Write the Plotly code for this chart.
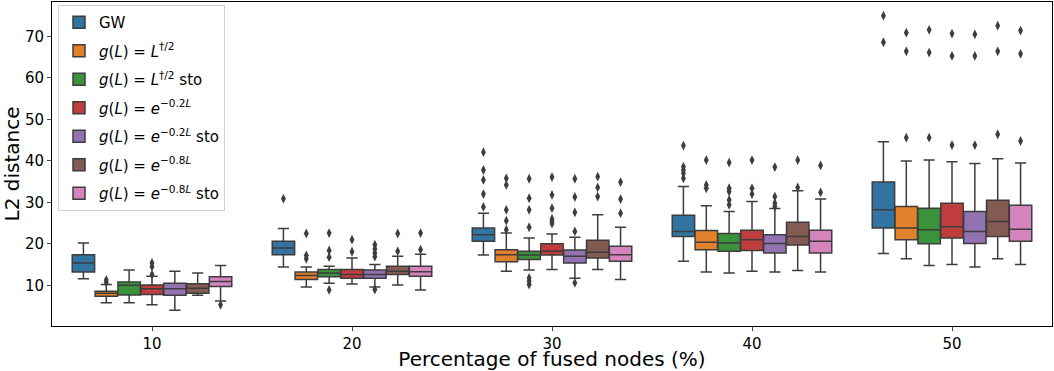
import plotly.graph_objects as go

groups = ["10", "20", "30", "40", "50"]
names = [
    "GW",
    "<i>g</i>(<i>L</i>) = <i>L</i><sup>†/2</sup>",
    "<i>g</i>(<i>L</i>) = <i>L</i><sup>†/2</sup> sto",
    "<i>g</i>(<i>L</i>) = <i>e</i><sup>−0.2<i>L</i></sup>",
    "<i>g</i>(<i>L</i>) = <i>e</i><sup>−0.2<i>L</i></sup> sto",
    "<i>g</i>(<i>L</i>) = <i>e</i><sup>−0.8<i>L</i></sup>",
    "<i>g</i>(<i>L</i>) = <i>e</i><sup>−0.8<i>L</i></sup> sto",
]
colors = ["#3274a1", "#e1812c", "#3a923a", "#c03d3e", "#9372b2", "#845b53", "#d684bd"]

# box stats per method, one value per group (10..50 %)
q1 = [
    [13.2, 17.4, 20.6, 21.8, 23.8],
    [7.4, 11.4, 15.7, 18.6, 21.0],
    [7.7, 12.1, 16.2, 18.2, 20.0],
    [7.8, 11.7, 17.3, 18.4, 21.4],
    [7.6, 11.7, 15.4, 17.8, 20.1],
    [8.1, 12.6, 16.6, 19.7, 21.8],
    [9.7, 12.2, 15.8, 17.8, 20.6],
]
med = [
    [15.4, 19.0, 22.2, 23.0, 28.2],
    [8.1, 12.4, 17.4, 20.4, 23.8],
    [10.0, 13.0, 17.3, 20.2, 23.4],
    [9.2, 12.6, 18.2, 21.0, 24.1],
    [9.2, 12.6, 17.0, 20.1, 23.0],
    [9.3, 13.4, 18.0, 21.8, 25.4],
    [10.9, 13.3, 17.4, 20.6, 23.5],
]
q3 = [
    [17.4, 20.6, 23.8, 26.9, 34.9],
    [8.6, 13.2, 18.6, 23.2, 29.0],
    [10.8, 13.8, 18.2, 22.5, 28.6],
    [10.1, 13.8, 20.0, 23.3, 29.8],
    [10.5, 13.7, 18.5, 22.2, 27.8],
    [10.4, 14.6, 20.9, 25.2, 30.5],
    [12.1, 14.6, 19.4, 23.3, 29.3],
]
lo = [
    [11.6, 14.4, 17.3, 15.8, 17.7],
    [5.8, 9.6, 13.4, 13.2, 16.4],
    [5.8, 10.5, 13.7, 13.0, 14.8],
    [5.3, 10.3, 13.8, 13.4, 15.0],
    [4.0, 9.6, 11.7, 13.2, 14.4],
    [7.6, 10.1, 13.8, 13.6, 16.4],
    [6.2, 8.9, 11.4, 13.2, 15.0],
]
hi = [
    [20.2, 23.7, 27.4, 33.8, 44.6],
    [10.2, 14.4, 22.6, 29.2, 40.0],
    [13.7, 14.6, 21.4, 27.8, 40.2],
    [12.2, 16.6, 22.4, 30.2, 39.8],
    [13.4, 15.0, 21.6, 28.5, 39.4],
    [12.95, 17.0, 27.0, 32.8, 40.5],
    [14.8, 17.5, 24.0, 30.8, 39.5],
]
outliers = [
    [[], [30.9], [42.1, 37.8, 35.4, 32.0, 28.9], [43.7, 38.6, 37.8, 37.0, 35.8], [75.0, 68.6]],
    [[11.3, 10.7], [22.5, 17.2, 16.4], [35.8, 34.2, 28.2, 25.6, 23.4], [40.2, 34.2, 33.4], [70.9, 66.4, 45.6]],
    [[], [22.6, 18.4, 16.8, 8.9], [35.7, 31.0, 28.2, 24.0, 11.8, 11.0, 10.2], [39.6, 33.4, 32.6, 30.6, 29.4], [71.6, 66.1, 45.6]],
    [[15.4, 14.5, 12.6], [21.0, 18.1], [36.1, 31.8, 28.6, 26.0, 25.4, 24.9], [40.2, 33.4, 32.0], [70.7, 65.3, 43.8]],
    [[], [19.8, 18.8, 17.8, 16.9, 9.0], [35.7, 31.3, 27.6, 23.0, 10.6], [38.5, 31.4, 29.8, 29.0], [70.5, 65.3, 43.8]],
    [[], [22.5, 18.2], [36.2, 33.6, 31.4], [40.2, 33.6], [72.6, 66.4, 46.4]],
    [[5.3], [22.6, 18.6], [34.9, 30.8, 27.4], [38.9, 32.4], [71.4, 65.8, 44.8]],
]

gray = "#3d3d3d"
n = len(names)
bw = 0.8 / n
fig = go.Figure()

for h in range(n):
    off = (h - (n - 1) / 2) * bw
    xs = [g + off for g in range(len(groups))]
    fig.add_trace(go.Box(
        x=xs, q1=q1[h], median=med[h], q3=q3[h],
        lowerfence=lo[h], upperfence=hi[h],
        name=names[h], fillcolor=colors[h],
        line=dict(color=gray, width=1.5),
        width=bw * 0.98, whiskerwidth=0.5,
        boxpoints=False, legendgroup=str(h),
    ))
    ox, oy = [], []
    for g in range(len(groups)):
        for v in outliers[h][g]:
            ox.append(g + off)
            oy.append(v)
    fig.add_trace(go.Scatter(
        x=ox, y=oy, mode="markers", showlegend=False, legendgroup=str(h),
        marker=dict(symbol="diamond-tall", size=7, color=gray),
    ))

fig.update_layout(
    width=1054, height=371,
    margin=dict(l=52, r=2, t=2, b=45),
    plot_bgcolor="white", paper_bgcolor="white",
    font=dict(family="DejaVu Sans", size=15, color="black"),
    boxmode="overlay",
    legend=dict(
        x=0.006, y=0.991, xanchor="left", yanchor="top",
        bgcolor="white", bordercolor="#d0d0d0", borderwidth=1,
        font=dict(size=15), tracegroupgap=6,
    ),
    xaxis=dict(
        range=[-0.5, 4.5], tickvals=list(range(len(groups))), ticktext=groups,
        showgrid=False, zeroline=False, showline=True, mirror=True,
        linecolor="black", linewidth=1, ticks="outside", ticklen=4,
        automargin=False,
        title=dict(text="Percentage of fused nodes (%)", font=dict(size=20), standoff=9),
    ),
    yaxis=dict(
        range=[0.2, 78.3], tickvals=[10, 20, 30, 40, 50, 60, 70],
        showgrid=False, zeroline=False, showline=True, mirror=True,
        linecolor="black", linewidth=1, ticks="outside", ticklen=4,
        automargin=False,
        title=dict(text="L2 distance", font=dict(size=20), standoff=4),
    ),
)

fig.write_html("out.html", config={"displayModeBar": False},
               post_script="document.body.style.margin='0';")
